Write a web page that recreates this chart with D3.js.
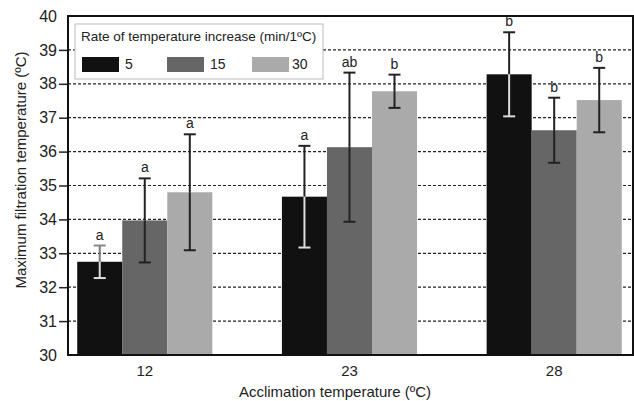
<!DOCTYPE html>
<html>
<head>
<meta charset="utf-8">
<script src="https://cdn.jsdelivr.net/npm/d3@7"></script>
<style>
  html, body { margin: 0; padding: 0; background: #fff; }
  svg { display: block; font-family: "Liberation Sans", Arial, sans-serif; }
</style>
</head>
<body>
<div id="visualization"></div>
<script>
// --- Data ---
const groups = ["12", "23", "28"];
const rates = ["5", "15", "30"];
const means5 = [32.75, 34.67, 38.28];
const means15 = [33.97, 36.13, 36.63];
const means30 = [34.80, 37.78, 37.52];
const err5 = [0.48, 1.50, 1.24];
const err15 = [1.24, 2.20, 0.96];
const err30 = [1.71, 0.49, 0.95];
const letters5 = ["a", "a", "b"];
const letters15 = ["a", "ab", "b"];
const letters30 = ["a", "b", "b"];
const yTicks = [30, 31, 32, 33, 34, 35, 36, 37, 38, 39, 40];

// --- Constants ---
const SVG_WIDTH = 634;
const SVG_HEIGHT = 401;
const MARGIN = { top: 16, right: 1, bottom: 46, left: 68 };
const INNER_WIDTH = SVG_WIDTH - MARGIN.left - MARGIN.right;
const INNER_HEIGHT = SVG_HEIGHT - MARGIN.top - MARGIN.bottom;
const COLORS = ["#111111", "#666666", "#aaaaaa"];

const means = [means5, means15, means30];
const errs = [err5, err15, err30];
const letters = [letters5, letters15, letters30];

const rows = [];
groups.forEach((g, gi) => {
    rates.forEach((r, ri) => {
        rows.push({ group: g, rate: r, ri, mean: means[ri][gi], err: errs[ri][gi], letter: letters[ri][gi] });
    });
});

const svg = d3.select("#visualization").append("svg")
    .attr("width", SVG_WIDTH)
    .attr("height", SVG_HEIGHT);

const plot = svg.append("g").attr("transform", `translate(${MARGIN.left},${MARGIN.top})`);

const y = d3.scaleLinear().domain([30, 40]).range([INNER_HEIGHT, 0]);
const x0 = d3.scaleBand().domain(groups).range([0, INNER_WIDTH])
    .paddingInner(0.34).paddingOuter(0.05).align(0.45);
const x1 = d3.scaleBand().domain(rates).range([0, x0.bandwidth()]);

// gridlines (dashed)
plot.append("g")
    .selectAll("line")
    .data(yTicks.filter(t => t > 30 && t < 40))
    .join("line")
    .attr("x1", 0).attr("x2", INNER_WIDTH)
    .attr("y1", d => y(d)).attr("y2", d => y(d))
    .attr("stroke", "#222").attr("stroke-width", 1.2)
    .attr("stroke-dasharray", "3,2");

// bars
plot.append("g")
    .selectAll("rect")
    .data(rows)
    .join("rect")
    .attr("x", d => x0(d.group) + x1(d.rate))
    .attr("y", d => y(d.mean))
    .attr("width", x1.bandwidth())
    .attr("height", d => INNER_HEIGHT - y(d.mean))
    .attr("fill", d => COLORS[d.ri]);

// error bars
const eb = plot.append("g").selectAll("g").data(rows).join("g")
    .attr("transform", d => `translate(${x0(d.group) + x1(d.rate) + x1.bandwidth() / 2},0)`);
// part above the bar top
eb.append("line")
    .attr("x1", 0).attr("x2", 0)
    .attr("y1", d => y(d.mean + d.err)).attr("y2", d => y(d.mean))
    .attr("stroke", d => (d.ri === 0 && d.err < 0.6) ? "#777" : "#222").attr("stroke-width", 2);
// part inside the bar
eb.append("line")
    .attr("x1", 0).attr("x2", 0)
    .attr("y1", d => y(d.mean)).attr("y2", d => y(d.mean - d.err))
    .attr("stroke", d => d.ri === 0 ? "#dddddd" : "#222").attr("stroke-width", 2);
eb.append("line")
    .attr("x1", -6).attr("x2", 6)
    .attr("y1", d => y(d.mean + d.err)).attr("y2", d => y(d.mean + d.err))
    .attr("stroke", d => (d.ri === 0 && d.err < 0.6) ? "#888" : "#222").attr("stroke-width", 2);
eb.append("line")
    .attr("x1", -6).attr("x2", 6)
    .attr("y1", d => y(d.mean - d.err)).attr("y2", d => y(d.mean - d.err))
    .attr("stroke", d => d.ri === 0 ? "#dddddd" : "#222").attr("stroke-width", 2);
eb.append("text")
    .attr("y", d => y(d.mean + d.err) - 6)
    .attr("text-anchor", "middle")
    .attr("font-size", 14)
    .attr("fill", "#222")
    .text(d => d.letter);

// y axis
const yAxis = d3.axisLeft(y).tickValues(yTicks).tickSize(9).tickPadding(2).tickFormat(d3.format("d"));
const yG = plot.append("g").call(yAxis);
yG.select(".domain").remove();
yG.selectAll(".tick line").attr("stroke", "#222").attr("stroke-width", 1.5)
    .attr("display", d => (d === 30 || d === 40) ? "none" : null);
yG.selectAll(".tick text").attr("font-size", 16).attr("fill", "#222");

// x axis
const xAxis = d3.axisBottom(x0).tickSize(0).tickPadding(10);
const xG = plot.append("g").attr("transform", `translate(0,${INNER_HEIGHT})`).call(xAxis);
xG.select(".domain").remove();
xG.selectAll(".tick text").attr("font-size", 15).attr("fill", "#222");

// frame
plot.append("rect")
    .attr("width", INNER_WIDTH).attr("height", INNER_HEIGHT)
    .attr("fill", "none").attr("stroke", "#111").attr("stroke-width", 2);

// axis titles
svg.append("text")
    .attr("x", 335).attr("y", 397)
    .attr("text-anchor", "middle")
    .attr("font-size", 15).attr("fill", "#222")
    .text("Acclimation temperature (ºC)");
svg.append("text")
    .attr("transform", "rotate(-90)")
    .attr("x", -170).attr("y", 26)
    .attr("text-anchor", "middle")
    .attr("font-size", 15).attr("fill", "#222")
    .text("Maximum filtration temperature (ºC)");

// legend
const legend = svg.append("g").attr("transform", "translate(75,24)");
legend.append("rect")
    .attr("width", 248).attr("height", 55)
    .attr("fill", "#fff").attr("stroke", "#bbb").attr("stroke-width", 1);
legend.append("text")
    .attr("x", 6).attr("y", 17)
    .attr("font-size", 13.5).attr("fill", "#222")
    .text("Rate of temperature increase (min/1ºC)");
const li = legend.selectAll(".li").data(rates).join("g")
    .attr("class", "li")
    .attr("transform", (d, i) => `translate(${7 + i * 85},33)`);
li.append("rect")
    .attr("width", 37).attr("height", 15)
    .attr("fill", (d, i) => COLORS[i]);
li.append("text")
    .attr("x", (d, i) => i === 2 ? 40 : 43).attr("y", 12)
    .attr("font-size", 14).attr("fill", "#222")
    .text(d => d);
</script>
</body>
</html>
